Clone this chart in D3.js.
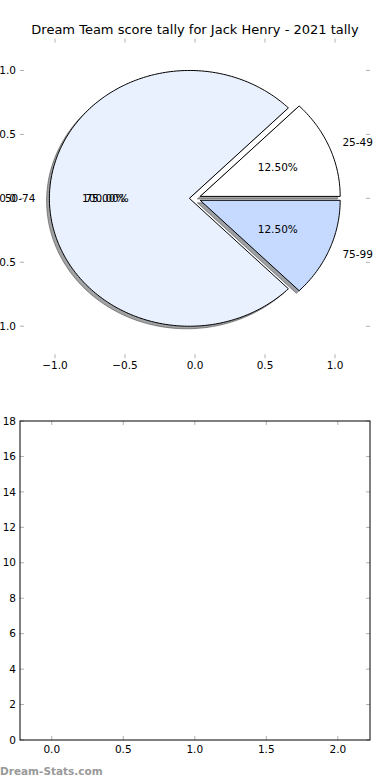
<!DOCTYPE html>
<html>
<head>
<meta charset="utf-8">
<script src="https://cdn.jsdelivr.net/npm/d3@7"></script>
<style>
  body { margin: 0; background: #fff; }
  svg { display: block; font-family: "DejaVu Sans", sans-serif; }
</style>
</head>
<body>
<svg width="390" height="780"></svg>
<script>
// data
const sliceLabels = ["25-49", "50-74", "75-99"];
const sliceCounts = [1, 6, 1];
const sliceColors = ["#ffffff", "#eaf1fe", "#c6d9fe"];
const sliceExplode = [0.04, 0.04, 0.04];
const pieTicks = [-1.0, -0.5, 0.0, 0.5, 1.0];
const barXTicks = [0.0, 0.5, 1.0, 1.5, 2.0];
const barYTicks = [0, 2, 4, 6, 8, 10, 12, 14, 16, 18];

const svg = d3.select('svg');
const tickColor = '#b0b0b0';
const fmt = d => d3.format('.1f')(d).replace('-', '\u2212');

svg.append('text')
  .attr('x', 195)
  .attr('y', 34)
  .attr('text-anchor', 'middle')
  .style('font-size', '13px')
  .text('Dream Team score tally for Jack Henry - 2021 tally');

// ---- pie panel ----
const pie = { left: 20, right: 370, top: 38.5, bottom: 358.2 };
const xS = d3.scaleLinear().domain([-1.25, 1.25]).range([pie.left, pie.right]);
const yS = d3.scaleLinear().domain([-1.25, 1.25]).range([pie.bottom, pie.top]);

const angles = d3.pie().sort(null).value(d => d)(sliceCounts);
const total = d3.sum(sliceCounts);
const line = d3.line().x(d => xS(d[0])).y(d => yS(d[1]));

const wedgePts = (a, i, dx, dy) => {
  const mid = (a.startAngle + a.endAngle) / 2;
  const cx = sliceExplode[i] * Math.cos(mid) + dx;
  const cy = sliceExplode[i] * Math.sin(mid) + dy;
  const n = Math.max(2, Math.ceil((a.endAngle - a.startAngle) / 0.02));
  const pts = [[cx, cy]];
  for (let k = 0; k <= n; k++) {
    const t = a.startAngle + (a.endAngle - a.startAngle) * k / n;
    pts.push([cx + Math.cos(t), cy + Math.sin(t)]);
  }
  pts.push([cx, cy]);
  return pts;
};

const gPie = svg.append('g');

// shadows below every wedge
gPie.selectAll('path.shadow')
  .data(angles)
  .enter()
  .append('path')
  .attr('class', 'shadow')
  .attr('d', (a, i) => line(wedgePts(a, i, -0.02, -0.02)))
  .attr('fill', (a, i) => {
    const c = d3.rgb(sliceColors[i]);
    return d3.rgb(c.r * 0.3, c.g * 0.3, c.b * 0.3);
  })
  .attr('fill-opacity', 0.5)
  .attr('stroke', '#333')
  .attr('stroke-opacity', 0.5)
  .attr('stroke-width', 1);

gPie.selectAll('path.wedge')
  .data(angles)
  .enter()
  .append('path')
  .attr('class', 'wedge')
  .attr('d', (a, i) => line(wedgePts(a, i, 0, 0)))
  .attr('fill', (a, i) => sliceColors[i])
  .attr('stroke', '#000')
  .attr('stroke-width', 1)
  .attr('stroke-linejoin', 'miter');

// pie axis ticks (no frame)
pieTicks.forEach(t => {
  gPie.append('line').attr('x1', xS(t)).attr('x2', xS(t)).attr('y1', pie.top).attr('y2', pie.top + 4).attr('stroke', tickColor);
  gPie.append('line').attr('x1', xS(t)).attr('x2', xS(t)).attr('y1', pie.bottom).attr('y2', pie.bottom - 4).attr('stroke', tickColor);
  gPie.append('line').attr('y1', yS(t)).attr('y2', yS(t)).attr('x1', pie.left).attr('x2', pie.left + 4).attr('stroke', tickColor);
  gPie.append('line').attr('y1', yS(t)).attr('y2', yS(t)).attr('x1', pie.right).attr('x2', pie.right - 4).attr('stroke', tickColor);
  gPie.append('text').attr('x', xS(t)).attr('y', pie.bottom + 11).attr('text-anchor', 'middle')
    .style('font-size', '10.5px').text(fmt(t));
  gPie.append('text').attr('x', pie.left - 4).attr('y', yS(t)).attr('dy', '0.35em').attr('text-anchor', 'end')
    .style('font-size', '10.5px').text(fmt(t));
});

// slice labels and percentages
angles.forEach((a, i) => {
  const mid = (a.startAngle + a.endAngle) / 2;
  const e = sliceExplode[i];
  const lx = (1.1 + e) * Math.cos(mid), ly = (1.1 + e) * Math.sin(mid);
  gPie.append('text')
    .attr('x', xS(lx)).attr('y', yS(ly)).attr('dy', '0.35em')
    .attr('text-anchor', lx > 0 ? 'start' : 'end')
    .style('font-size', '10.5px')
    .text(sliceLabels[i]);
  const px = (0.6 + e) * Math.cos(mid), py = (0.6 + e) * Math.sin(mid);
  gPie.append('text')
    .attr('x', xS(px)).attr('y', yS(py)).attr('dy', '0.35em')
    .attr('text-anchor', 'middle')
    .style('font-size', '10.5px')
    .text(d3.format('.2f')(100 * sliceCounts[i] / total) + '%');
  // the big slice also carries the overall share, drawn on top of its own
  if (sliceCounts[i] === d3.max(sliceCounts)) {
    gPie.append('text')
      .attr('x', xS(px)).attr('y', yS(py)).attr('dy', '0.35em')
      .attr('text-anchor', 'middle')
      .style('font-size', '10.5px')
      .text(d3.format('.2f')(100 * total / total) + '%');
  }
});

// ---- empty bar panel ----
const bar = { left: 20, right: 370, top: 421, bottom: 740 };
const bx = d3.scaleLinear().domain([-0.222, 2.225]).range([bar.left, bar.right]);
const by = d3.scaleLinear().domain([0, 18]).range([bar.bottom, bar.top]);
const gBar = svg.append('g');

barXTicks.forEach(t => {
  gBar.append('line').attr('x1', bx(t)).attr('x2', bx(t)).attr('y1', bar.bottom).attr('y2', bar.bottom - 4).attr('stroke', tickColor);
  gBar.append('line').attr('x1', bx(t)).attr('x2', bx(t)).attr('y1', bar.top).attr('y2', bar.top + 4).attr('stroke', tickColor);
  gBar.append('text').attr('x', bx(t)).attr('y', bar.bottom + 13).attr('text-anchor', 'middle')
    .style('font-size', '10.5px').text(fmt(t));
});
barYTicks.forEach(t => {
  gBar.append('line').attr('y1', by(t)).attr('y2', by(t)).attr('x1', bar.left).attr('x2', bar.left + 4).attr('stroke', tickColor);
  gBar.append('line').attr('y1', by(t)).attr('y2', by(t)).attr('x1', bar.right).attr('x2', bar.right - 4).attr('stroke', tickColor);
  gBar.append('text').attr('x', bar.left - 4).attr('y', by(t)).attr('dy', '0.35em').attr('text-anchor', 'end')
    .style('font-size', '10.5px').text(t);
});
gBar.append('rect')
  .attr('x', bar.left).attr('y', bar.top)
  .attr('width', bar.right - bar.left).attr('height', bar.bottom - bar.top)
  .attr('fill', 'none').attr('stroke', '#000').attr('stroke-width', 1);

svg.append('text')
  .attr('x', 0).attr('y', 775)
  .style('font-size', '10.5px')
  .style('font-weight', 'bold')
  .attr('fill', '#999')
  .text('Dream-Stats.com');
</script>
</body>
</html>
